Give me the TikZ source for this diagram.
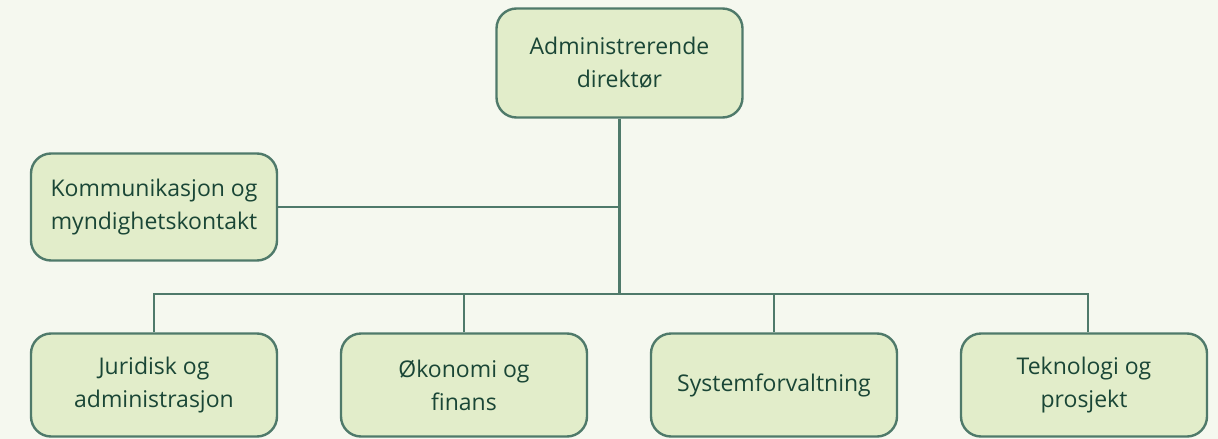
\documentclass[tikz,border=0pt]{standalone}
\usepackage{fontspec}
\setmainfont{Open Sans}
\definecolor{bgcol}{HTML}{F5F8EF}
\definecolor{boxfill}{HTML}{E2EDCA}
\definecolor{boxline}{HTML}{4F7A6A}
\definecolor{txtcol}{HTML}{1A4636}
\tikzset{
  unit/.style={draw=boxline, fill=boxfill, line width=2.4pt, rounded corners=20pt,
    minimum width=246pt, minimum height=106pt, align=center, text=txtcol,
    font=\fontsize{23}{33}\selectfont},
  link/.style={draw=boxline, line width=2.4pt}
}
\begin{document}
\begin{tikzpicture}[x=1pt,y=-1pt]
      \fill[bgcol] (0,0) rectangle (1218,439);
      \useasboundingbox (0,0) rectangle (1218,439);
      \draw
        (619.5,63) node[unit, minimum height=109pt] (ceo){Administrerende\\direktør}
        (154,207) node[unit, minimum height=107pt] (komm){Kommunikasjon og\\myndighetskontakt}
        (154,385) node[unit, minimum height=103pt] (jur){Juridisk og\\administrasjon}
        (464,385) node[unit, minimum height=103pt] (oko){Økonomi og\\finans}
        (774,385) node[unit, minimum height=103pt] (sys){Systemforvaltning}
        (1084,385) node[unit, minimum height=103pt] (tek){Teknologi og\\prosjekt};
      \coordinate (bus) at (619.5,294);
      \begin{scope}[link]
        \draw (ceo) -- (bus);
        \draw (komm.east) -- (komm.east -| ceo);
        \draw (jur.north) |- (bus);
        \draw (oko.north) |- (bus);
        \draw (sys.north) |- (bus);
        \draw ([xshift=4pt]tek.north) |- (bus);
      \end{scope}
    \end{tikzpicture}
\end{document}
